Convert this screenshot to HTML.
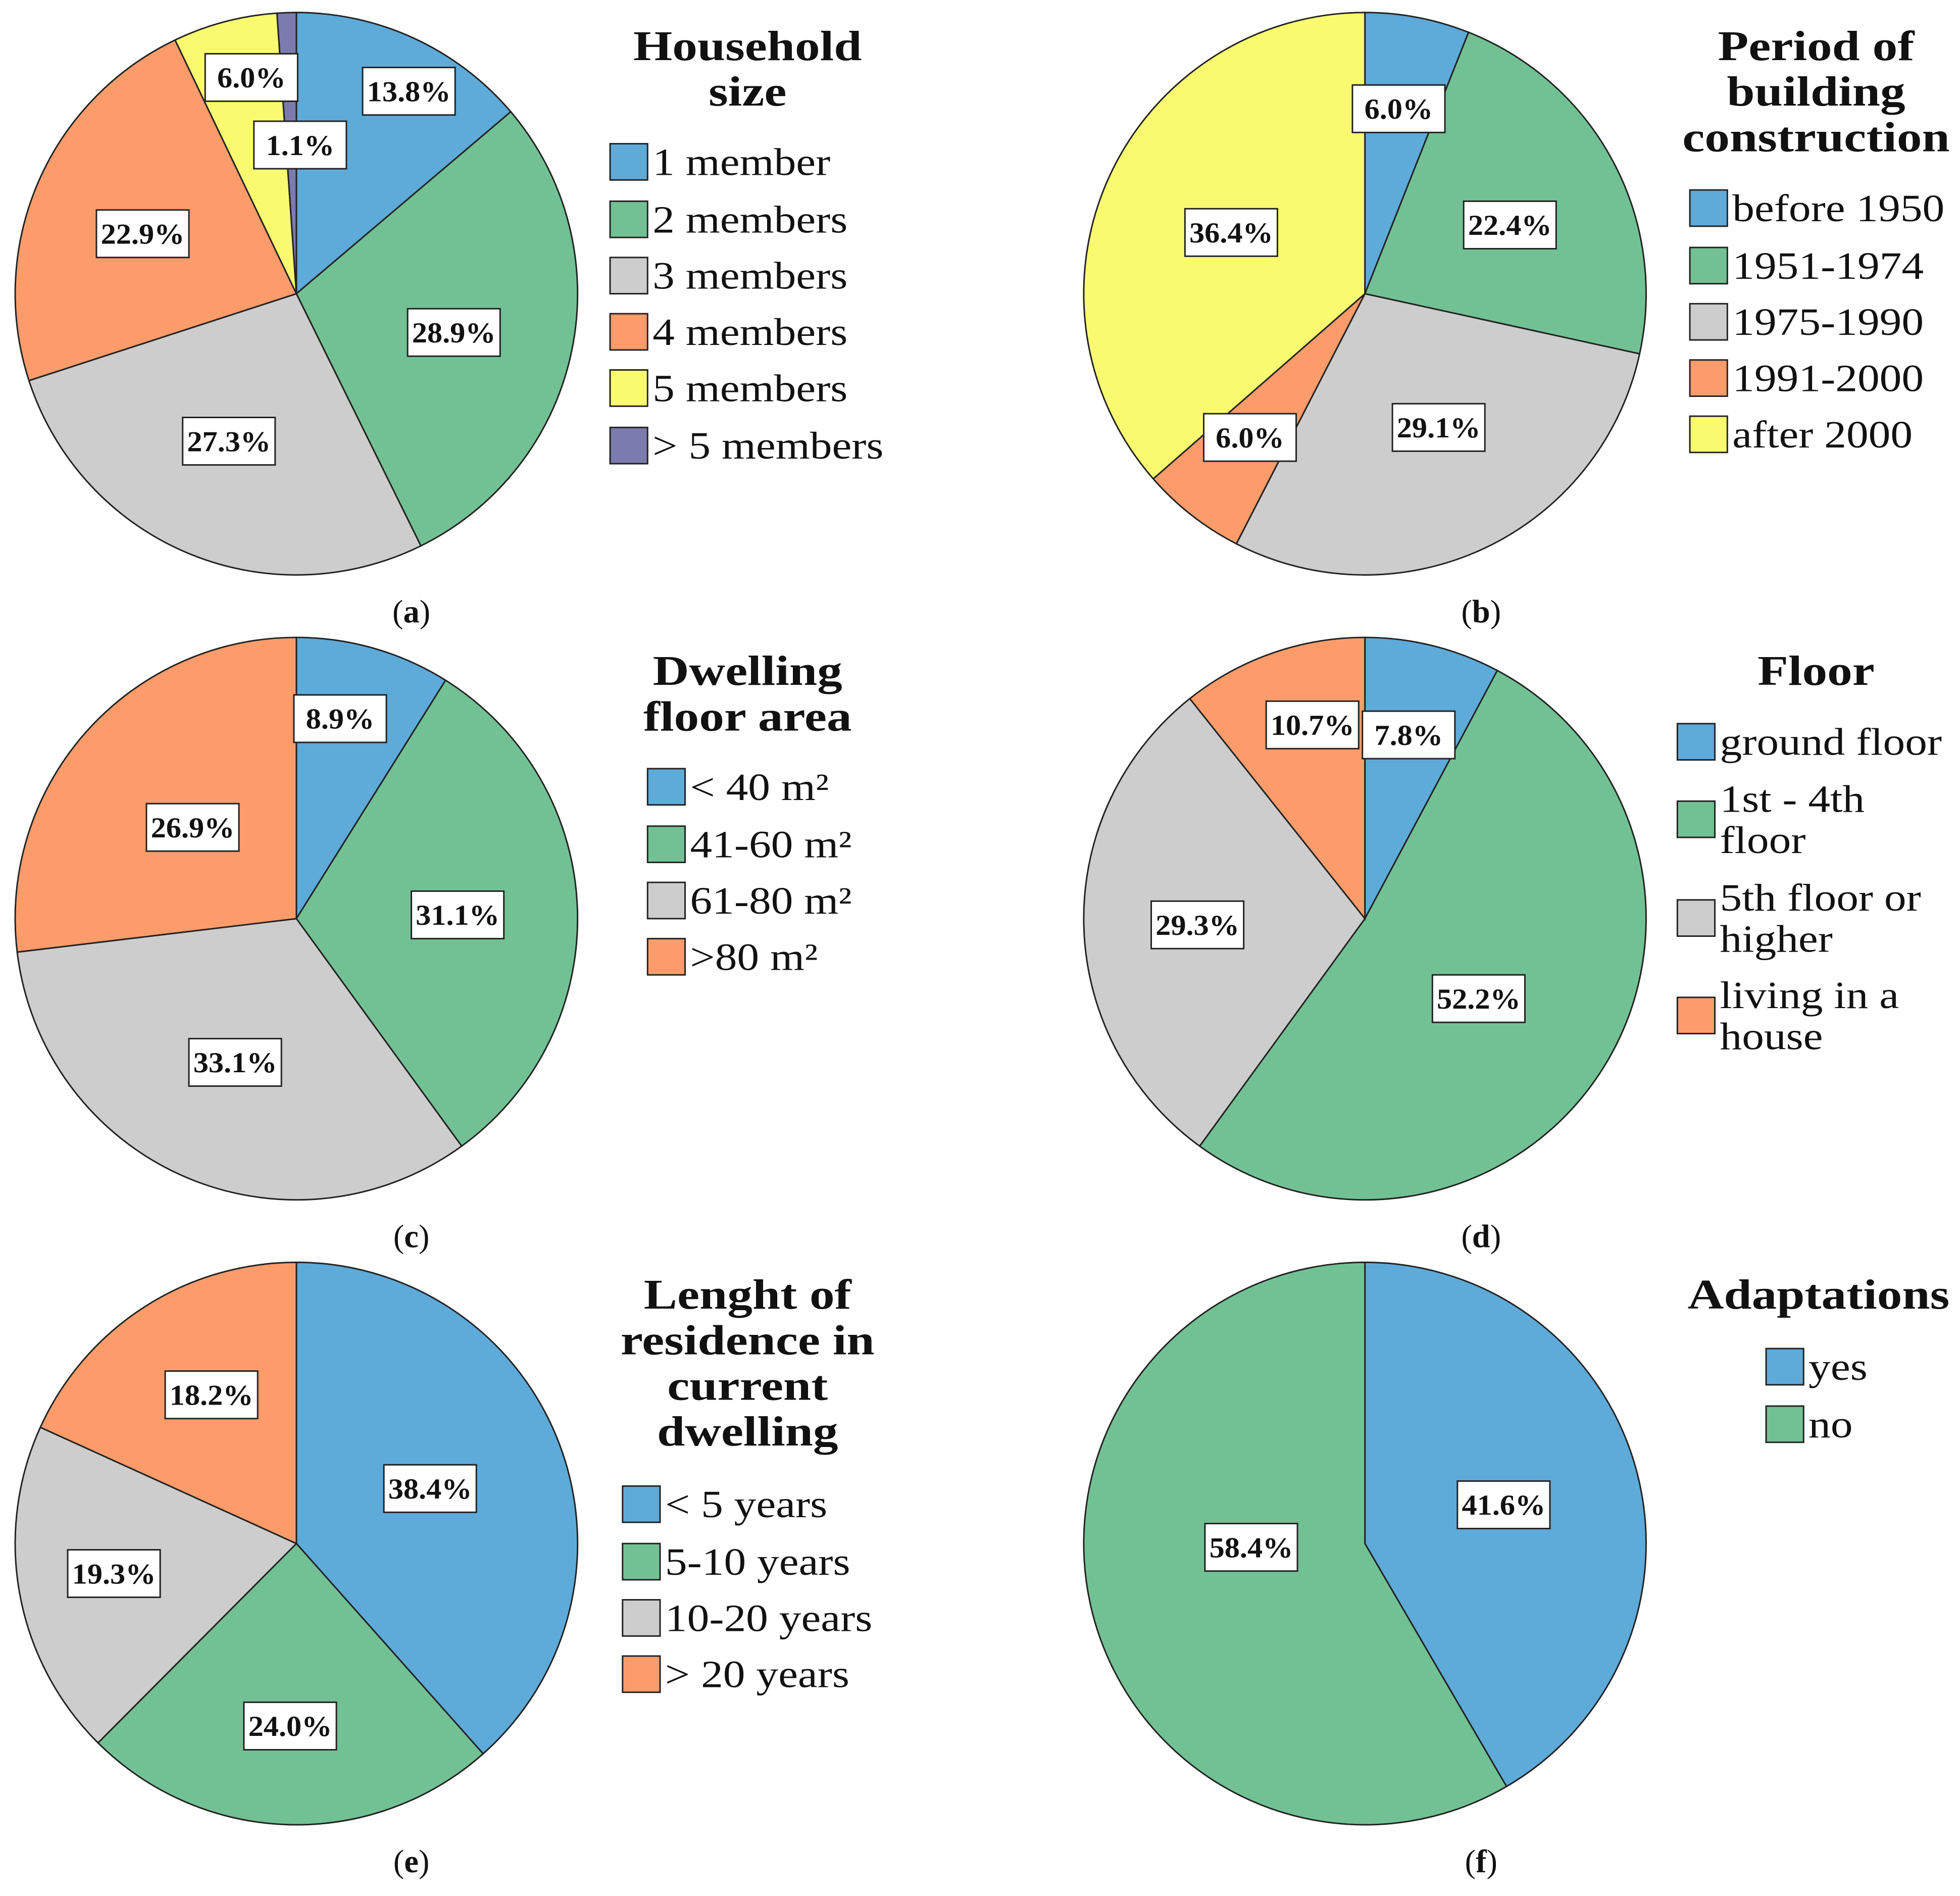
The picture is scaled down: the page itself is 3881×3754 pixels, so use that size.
<!DOCTYPE html>
<html><head><meta charset="utf-8">
<style>
html,body{margin:0;padding:0;background:#fff;}
svg{display:block;}
text{font-family:"Liberation Serif","DejaVu Serif",serif;fill:#111;}
</style></head>
<body>
<svg id="fig" width="3881" height="3754" viewBox="0 0 1568 1517" xmlns="http://www.w3.org/2000/svg">
</svg>
<script>
// ---- data ----
const aValues=[13.8,28.9,27.3,22.9,6.0,1.1];
const aCats=["1 member","2 members","3 members","4 members","5 members","> 5 members"];
const bValues=[6.0,22.4,29.1,6.0,36.4];
const bCats=["before 1950","1951-1974","1975-1990","1991-2000","after 2000"];
const cValues=[8.9,31.1,33.1,26.9];
const cCats=["< 40 m²","41-60 m²","61-80 m²",">80 m²"];
const dValues=[7.8,52.2,29.3,10.7];
const dCats=["ground floor","1st - 4th|floor","5th floor or|higher","living in a|house"];
const eValues=[38.4,24.0,19.3,18.2];
const eCats=["< 5 years","5-10 years","10-20 years","> 20 years"];
const fValues=[41.6,58.4];
const fCats=["yes","no"];

const colors=["#5eaad9","#72c194","#cdcdcd","#fc9c6b","#fafa70","#7b7bad"];
const NS="http://www.w3.org/2000/svg";
const svg=document.getElementById('fig');
function mk(tag,attrs,parent){const e=document.createElementNS(NS,tag);for(const k in attrs)e.setAttribute(k,attrs[k]);(parent||svg).appendChild(e);return e;}

const panels=[
 {id:"a",vals:aValues,cats:aCats,cx:237,cy:235,title:["Household","size"],tx:598,ty:36,sx:488,items:[129,175,220,265,310,356],
  lab:[[90,-162],[126,31],[-54,118],[-123,-48],[-36,-173],[3,-119]]},
 {id:"b",vals:bValues,cats:bCats,cx:1092,cy:235,title:["Period of","building","construction"],tx:1453,ty:36,sx:1352,items:[166,212,257,302,347],
  lab:[[27,-148],[116,-55],[59,107],[-92,115],[-107,-49]]},
 {id:"c",vals:cValues,cats:cCats,cx:237,cy:735,title:["Dwelling","floor area"],tx:598,ty:536,sx:518,items:[629,675,720,765],
  lab:[[35,-160],[129,-3],[-49,115],[-83,-73]]},
 {id:"d",vals:dValues,cats:dCats,cx:1092,cy:735,title:["Floor"],tx:1453,ty:536,sx:1342,items:[593,655,734,812],
  lab:[[35,-147],[91,64],[-134,5],[-42,-155]]},
 {id:"e",vals:eValues,cats:eCats,cx:237,cy:1235,title:["Lenght of","residence in","current","dwelling"],tx:598,ty:1035,sx:498,items:[1203,1249,1294,1339],
  lab:[[107,-44],[-5,146],[-146,24],[-68,-119]]},
 {id:"f",vals:fValues,cats:fCats,cx:1092,cy:1235,title:["Adaptations"],tx:1455,ty:1035,sx:1413,items:[1093,1139],
  lab:[[111,-31],[-91,3]]}
];
const R=225;
function pt(cx,cy,frac){const a=frac*2*Math.PI;return [cx+R*Math.sin(a),cy-R*Math.cos(a)];}

panels.forEach(p=>{
  const g=mk('g',{});
  
  
  const tot=p.vals.reduce((s,v)=>s+v,0);
  let acc=0;
  p.vals.forEach((v,i)=>{
    const f0=acc/tot, f1=(acc+v)/tot; acc+=v;
    const [x0,y0]=pt(p.cx,p.cy,f0),[x1,y1]=pt(p.cx,p.cy,f1);
    const large=(f1-f0)>0.5?1:0;
    const s=mk('path',{d:`M${p.cx},${p.cy} L${x0},${y0} A${R},${R} 0 ${large} 1 ${x1},${y1} Z`,fill:colors[i],stroke:"#222","stroke-width":1.2},g);
    
    
  });
  p.vals.forEach((v,i)=>{
    const lx=p.cx+p.lab[i][0], ly=p.cy+p.lab[i][1];
    const lg=mk('g',{},g);
    
    
    mk('rect',{x:lx-37,y:ly-19,width:74,height:38,fill:"#fff",stroke:"#222","stroke-width":1.2},lg);
    const t=mk('text',{x:0,y:0,transform:`translate(${lx},${ly+8}) scale(1.06,1)`,"text-anchor":"middle","font-size":23,"font-weight":"bold"},lg);
    t.textContent=v.toFixed(1)+"%";
  });
  p.title.forEach((line,k)=>{
    const t=mk('text',{x:0,y:0,transform:`translate(${p.tx},${p.ty+12+k*36.5}) scale(1.18,1)`,"text-anchor":"middle","font-size":34,"font-weight":"bold"});
    
    
    t.textContent=line;
  });
  p.cats.forEach((c,i)=>{
    const yc=p.items[i];
    const lg=mk('g',{});
    
    
    mk('rect',{x:p.sx,y:yc-14,width:30,height:29,fill:colors[i],stroke:"#222","stroke-width":1.2},lg);
    const lines=c.split('|');
    lines.forEach((ln,k)=>{
      const off=(k-(lines.length-1)/2)*33;
      const t=mk('text',{x:0,y:0,transform:`translate(${p.sx+34},${yc+off+11}) scale(1.14,1)`,"font-size":31},lg);
      t.textContent=ln;
    });
  });
  const capX=p.id==="a"||p.id==="c"||p.id==="e"?329:1185;
  const capY=p.cy+254;
  const ct=mk('text',{x:capX,y:capY+9,"text-anchor":"middle","font-size":26});
  
  
  ct.innerHTML='(<tspan font-weight="bold">'+p.id+'</tspan>)';
});
</script>
</body></html>
